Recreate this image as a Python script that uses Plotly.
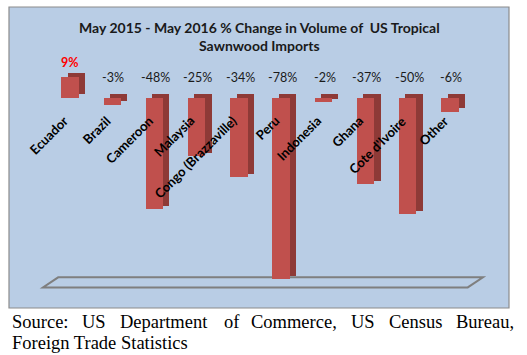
import plotly.graph_objects as go

countries = ["Ecuador", "Brazil", "Cameroon", "Malaysia", "Congo (Brazzaville)",
             "Peru", "Indonesia", "Ghana", "Cote d'Ivoire", "Other"]
pct_change = [9, -3, -48, -25, -34, -78, -2, -37, -50, -6]
value_labels = ["9%", "-3%", "-48%", "-25%", "-34%", "-78%", "-2%", "-37%", "-50%", "-6%"]

W, H = 527, 355
FRONT = "#C0504D"
SIDE = "#8E3A37"
BG = "#B9CDE5"

xs = list(range(len(countries)))
bw = 0.41      # front face width (category units)
dx = 0.15      # depth shift right
dy = 1.3       # depth shift up (percent units)

fig = go.Figure()
# side/back face (depth)
fig.add_trace(go.Bar(
    x=xs, y=pct_change, base=[dy] * len(xs),
    width=bw, offset=-bw / 2 + dx,
    marker=dict(color=SIDE, line=dict(width=0)),
    hoverinfo="skip", showlegend=False))
# front face
fig.add_trace(go.Bar(
    x=xs, y=pct_change, base=[0] * len(xs),
    width=bw, offset=-bw / 2,
    marker=dict(color=FRONT, line=dict(width=0)),
    showlegend=False))

annotations = []
for i, (c, v, lab) in enumerate(zip(countries, pct_change, value_labels)):
    if v > 0:
        annotations.append(dict(x=i, y=v + 6, text="<b>%s</b>" % lab, showarrow=False,
                                font=dict(family="Lato", size=12.5, color="#FF0000"),
                                xanchor="center", yanchor="middle"))
    else:
        annotations.append(dict(x=i + 0.03, y=8.6, text=lab, showarrow=False,
                                font=dict(family="Lato", size=12.5, color="#1a1a1a"),
                                xanchor="center", yanchor="middle"))
    annotations.append(dict(x=i, y=-5.3, text="<b>%s</b>" % c, showarrow=False,
                            textangle=-45, xanchor="right", yanchor="top", xshift=4,
                            font=dict(family="Lato", size=13, color="#000000")))

# title
annotations.append(dict(xref="paper", yref="paper", x=259 / W, y=1 - 36.5 / H,
                        text="<b>May 2015 - May 2016 % Change in Volume of  US Tropical<br>Sawnwood Imports</b>",
                        showarrow=False, xanchor="center", yanchor="middle",
                        font=dict(family="Lato", size=14, color="#1a1a1a")))

# source text (justified by word positions)
src_words = [("Source:", 10), ("US", 80), ("Department", 118), ("of", 222), ("Commerce,", 249),
             ("US", 349), ("Census", 387), ("Bureau,", 454)]
for w, px in src_words:
    annotations.append(dict(xref="paper", yref="paper", x=px / W, y=1 - 322 / H, text=w,
                            showarrow=False, xanchor="left", yanchor="middle",
                            font=dict(family="Liberation Serif", size=18.5, color="#000000")))
annotations.append(dict(xref="paper", yref="paper", x=10 / W, y=1 - 343 / H,
                        text="Foreign Trade Statistics", showarrow=False,
                        xanchor="left", yanchor="middle",
                        font=dict(family="Liberation Serif", size=18.5, color="#000000")))

# axes geometry: zero at 97.5 px, 2.333 px per percent; category 0 at 70 px, 42.22 px per category
pxp = 2.333
zero_px = 97.5
top_px, bot_px = 60, 300
yr = [-(bot_px - zero_px) / pxp, (zero_px - top_px) / pxp]
cpx = 42.22
left_px, right_px = 20, 500
xr = [-(70 - left_px) / cpx, 9 + (right_px - 450) / cpx]

shapes = [
    dict(type="rect", xref="paper", yref="paper", x0=9 / W, x1=509 / W,
         y0=1 - 308 / H, y1=1 - 7 / H, fillcolor=BG,
         line=dict(color="#8C8C8C", width=1.2), layer="below"),
]
# floor (parallelogram) in data coordinates
fb, ff = -77.1, -81.4
floor_path = "M %.3f %.3f L %.3f %.3f L %.3f %.3f L %.3f %.3f Z" % (
    -0.64, ff, 9.42, ff, 9.78, fb, -0.28, fb)
shapes.append(dict(type="path", xref="x", yref="y", path=floor_path,
                   line=dict(color="#7F7F7F", width=2), fillcolor="rgba(0,0,0,0)",
                   layer="below"))

fig.update_layout(
    width=W, height=H,
    margin=dict(l=0, r=0, t=0, b=0),
    paper_bgcolor="white", plot_bgcolor="rgba(0,0,0,0)",
    barmode="overlay", bargap=0,
    xaxis=dict(range=xr, domain=[left_px / W, right_px / W], visible=False, fixedrange=True),
    yaxis=dict(range=yr, domain=[1 - bot_px / H, 1 - top_px / H], visible=False, fixedrange=True),
    annotations=annotations,
    shapes=shapes,
)

fig.write_html("out.html", config={"displayModeBar": False},
               post_script="document.body.style.margin='0';document.body.style.overflow='hidden';")
